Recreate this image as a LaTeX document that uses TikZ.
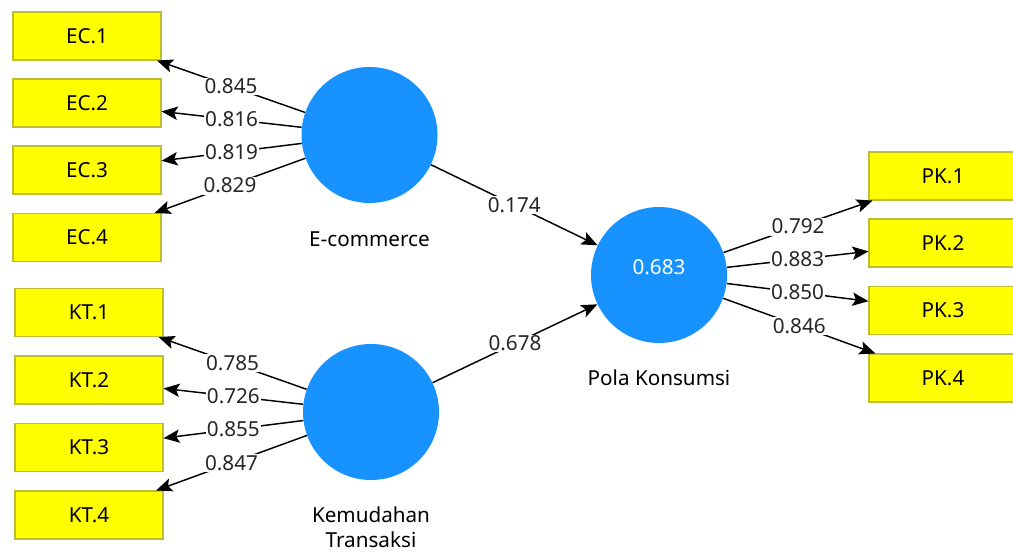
\documentclass[tikz,border=0pt]{standalone}
\usepackage{fontspec}
\setmainfont{Noto Sans}
\usetikzlibrary{arrows.meta}
\definecolor{lvblue}{RGB}{24,146,255}
\definecolor{mvyellow}{RGB}{255,255,0}
\definecolor{mvborder}{RGB}{190,190,50}
\tikzset{
 mv/.style={draw=mvborder, fill=mvyellow, line width=0.8pt, minimum width=111pt,
  minimum height=36pt, inner sep=0pt, font=\fontsize{15.5}{18}\selectfont},
 lv/.style={circle, fill=lvblue, minimum size=102pt, inner sep=0pt},
 lvname/.style={font=\fontsize{15.5}{19}\selectfont, align=center},
 link/.style={draw=black, line width=1.1pt, -{Stealth[length=12pt,width=10pt,inset=2.5pt]}},
 coef/.style={fill=white, inner sep=1pt, font=\fontsize{15.5}{18}\selectfont, text=black!85},
}
\begin{document}
\begin{tikzpicture}[x=0.75pt,y=-0.75pt]
\useasboundingbox (0,0) rectangle (1013,553);
\node[lv] (EC) at (369.5,135) {};
\node[lv] (KT) at (371,412) {};
\node[lv] (PK) at (659,275) {};
\node[text=white, font=\fontsize{15.5}{18}\selectfont] (R2) at ([yshift=6pt]PK.center) {0.683};
\node[lvname] (ECname) at (369.5,239) {E-commerce};
\node[lvname] (KTname) at (371,527) {Kemudahan\\Transaksi};
\node[lvname] (PKname) at (659,378) {Pola Konsumsi};
\foreach \i/\y/\w in {1/36/0.845,2/103/0.816,3/170/0.819,4/237.5/0.829} {
 \node[mv] (EC\i) at (87,\y) {EC.\i};
 \draw[link] (EC) -- node[coef] {\w} (EC\i);
}
\foreach \i/\y/\w in {1/312.5/0.785,2/380/0.726,3/447.5/0.855,4/515/0.847} {
 \node[mv] (KT\i) at (89,\y) {KT.\i};
 \draw[link] (KT) -- node[coef] {\w} (KT\i);
}
\foreach \i/\y/\w in {1/176/0.792,2/243/0.883,3/310.5/0.850,4/378/0.846} {
 \node[mv] (PK\i) at (943,\y) {PK.\i};
 \draw[link] (PK) -- node[coef] {\w} (PK\i);
}
\draw[link] (EC) -- node[coef] {0.174} (PK);
\draw[link] (KT) -- node[coef] {0.678} (PK);
\end{tikzpicture}
\end{document}
